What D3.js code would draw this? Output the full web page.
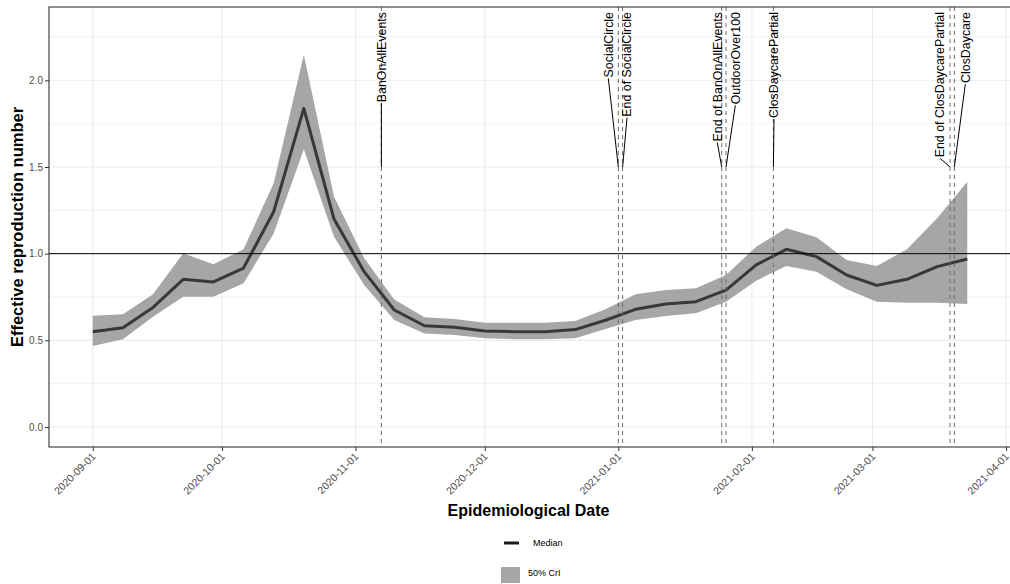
<!DOCTYPE html>
<html>
<head>
<meta charset="utf-8">
<script src="https://cdn.jsdelivr.net/npm/d3@7"></script>
<style>
  body { margin: 0; background: #fff; }
  text { font-family: "Liberation Sans", Arial, sans-serif; }
</style>
</head>
<body>
<div id="chart"></div>
<script>
// weekly estimates
const dates = ['2020-09-01', '2020-09-08', '2020-09-15', '2020-09-22', '2020-09-29',
  '2020-10-06', '2020-10-13', '2020-10-20', '2020-10-27',
  '2020-11-03', '2020-11-10', '2020-11-17', '2020-11-24',
  '2020-12-01', '2020-12-08', '2020-12-15', '2020-12-22', '2020-12-29',
  '2021-01-05', '2021-01-12', '2021-01-19', '2021-01-26',
  '2021-02-02', '2021-02-09', '2021-02-16', '2021-02-23',
  '2021-03-02', '2021-03-09', '2021-03-16', '2021-03-23'];
const median = [0.55, 0.573, 0.69, 0.852, 0.837, 0.917, 1.242, 1.838, 1.2, 0.896,
  0.675, 0.584, 0.575, 0.554, 0.55, 0.55, 0.562, 0.616, 0.679, 0.71,
  0.723, 0.79, 0.935, 1.025, 0.983, 0.877, 0.817, 0.852, 0.925, 0.969];
const upper = [0.642, 0.65, 0.766, 1.002, 0.939, 1.025, 1.406, 2.148, 1.33, 0.973,
  0.735, 0.633, 0.623, 0.602, 0.602, 0.602, 0.612, 0.68, 0.766, 0.79,
  0.8, 0.877, 1.04, 1.146, 1.094, 0.963, 0.929, 1.025, 1.204, 1.415];
const lower = [0.467, 0.506, 0.636, 0.752, 0.752, 0.829, 1.117, 1.603, 1.097, 0.819,
  0.617, 0.54, 0.531, 0.512, 0.506, 0.506, 0.512, 0.565, 0.617, 0.64,
  0.656, 0.723, 0.844, 0.929, 0.896, 0.794, 0.723, 0.717, 0.717, 0.71];

// interventions
const eventNames = ['BanOnAllEvents', 'SocialCircle', 'End of SocialCircle',
  'End of BanOnAllEvents', 'OutdoorOver100', 'ClosDaycarePartial',
  'End of ClosDaycarePartial', 'ClosDaycare'];
const eventDates = ['2020-11-07', '2021-01-01', '2021-01-02', '2021-01-25',
  '2021-01-26', '2021-02-06', '2021-03-19', '2021-03-20'];
const eventLevel = 1.5;
const threshold = 1;

// axis ticks
const xTicks = ['2020-09-01', '2020-10-01', '2020-11-01', '2020-12-01',
  '2021-01-01', '2021-02-01', '2021-03-01', '2021-04-01'];
const yTicks = [0, 0.5, 1, 1.5, 2];
const yMinor = [0.25, 0.75, 1.25, 1.75, 2.25];
const legendLabels = ['Median', '50% CrI'];

// label nudges (px) for the repelled text
const labelDx = [0, -10, 4.4, -4.4, 9.3, 0.6, -10, 11];

const W = 1010, H = 584;
const panel = { left: 49, right: 1011, top: 7, bottom: 447 };
const parse = d3.utcParse('%Y-%m-%d');

const data = dates.map((d, i) => ({ date: parse(d), med: median[i], lo: lower[i], hi: upper[i] }));

const svg = d3.select('#chart').append('svg')
  .attr('width', W).attr('height', H);

// ggplot-like 5% expansion of the date range
const ext = d3.extent(data, d => d.date);
const pad = (ext[1] - ext[0]) * 0.05;
const x = d3.scaleUtc()
  .domain([new Date(+ext[0] - pad), new Date(+ext[1] + pad)])
  .range([panel.left, panel.right]);
const y = d3.scaleLinear()
  .domain([-0.1154, 2.423])
  .range([panel.bottom, panel.top]);

svg.append('clipPath').attr('id', 'clip')
  .append('rect')
  .attr('x', panel.left).attr('y', panel.top)
  .attr('width', panel.right - panel.left).attr('height', panel.bottom - panel.top);

const g = svg.append('g').attr('clip-path', 'url(#clip)');

// grid
g.selectAll('.ymin').data(yMinor).enter().append('line')
  .attr('x1', panel.left).attr('x2', panel.right)
  .attr('y1', d => y(d)).attr('y2', d => y(d))
  .attr('stroke', '#ebebeb').attr('stroke-width', 0.6);
g.selectAll('.ymaj').data(yTicks).enter().append('line')
  .attr('x1', panel.left).attr('x2', panel.right)
  .attr('y1', d => y(d)).attr('y2', d => y(d))
  .attr('stroke', '#ebebeb').attr('stroke-width', 1.1);
g.selectAll('.xmaj').data(xTicks).enter().append('line')
  .attr('x1', d => x(parse(d))).attr('x2', d => x(parse(d)))
  .attr('y1', panel.top).attr('y2', panel.bottom)
  .attr('stroke', '#ebebeb').attr('stroke-width', 1.1);

// ribbon
const area = d3.area()
  .x(d => x(d.date))
  .y0(d => y(d.lo))
  .y1(d => y(d.hi));
g.append('path').datum(data)
  .attr('d', area)
  .attr('fill', '#a6a6a6');

// median
const line = d3.line()
  .x(d => x(d.date))
  .y(d => y(d.med));
g.append('path').datum(data)
  .attr('d', line)
  .attr('fill', 'none')
  .attr('stroke', '#383838')
  .attr('stroke-width', 3)
  .attr('stroke-linejoin', 'round');

// threshold line
g.append('line')
  .attr('x1', panel.left).attr('x2', panel.right)
  .attr('y1', y(threshold)).attr('y2', y(threshold))
  .attr('stroke', '#000').attr('stroke-width', 1);

// intervention dates
g.selectAll('.vline').data(eventDates).enter().append('line')
  .attr('x1', d => x(parse(d))).attr('x2', d => x(parse(d)))
  .attr('y1', panel.top).attr('y2', panel.bottom)
  .attr('stroke', '#6b6b6b').attr('stroke-width', 1)
  .attr('stroke-dasharray', '4,4');

// labels + segments
const labels = g.selectAll('.lab').data(eventNames).enter().append('g');
labels.each(function (name, i) {
  const sel = d3.select(this);
  const px = x(parse(eventDates[i]));
  const cx = px + labelDx[i];
  const t = sel.append('text')
    .text(name)
    .attr('transform', `translate(${cx},12) rotate(-90)`)
    .attr('text-anchor', 'end')
    .attr('dy', '0.35em')
    .attr('font-size', 12.4)
    .attr('fill', '#000');
  const len = t.node().getComputedTextLength();
  const bottom = 12 + len + 1;
  if (bottom < y(eventLevel)) {
    sel.insert('line', 'text')
      .attr('x1', px).attr('y1', y(eventLevel))
      .attr('x2', cx).attr('y2', bottom)
      .attr('stroke', '#000').attr('stroke-width', 1);
  }
});

// panel border
svg.append('rect')
  .attr('x', panel.left).attr('y', panel.top)
  .attr('width', panel.right - panel.left).attr('height', panel.bottom - panel.top)
  .attr('fill', 'none').attr('stroke', '#333').attr('stroke-width', 1.1);

// axes
const yAxis = svg.append('g')
  .attr('transform', `translate(${panel.left},0)`)
  .call(d3.axisLeft(y).tickValues(yTicks).tickFormat(d3.format('.1f')).tickSize(4).tickPadding(2));
const xAxis = svg.append('g')
  .attr('transform', `translate(0,${panel.bottom})`)
  .call(d3.axisBottom(x).tickValues(xTicks.map(parse)).tickFormat(d3.utcFormat('%Y-%m-%d')).tickSize(4));

[yAxis, xAxis].forEach(a => {
  a.select('.domain').remove();
  a.selectAll('.tick line').attr('stroke', '#333');
  a.selectAll('.tick text')
    .attr('fill', '#4d4d4d')
    .attr('font-size', 10)
    .attr('font-family', '"Liberation Sans", Arial, sans-serif');
});

xAxis.selectAll('.tick text')
  .attr('x', 0).attr('y', 0)
  .attr('dy', '0.7em')
  .attr('font-size', 10.5)
  .attr('text-anchor', 'end')
  .attr('transform', 'translate(-2,5) rotate(-45)');

// titles
svg.append('text')
  .text('Epidemiological Date')
  .attr('x', (panel.left + 1008) / 2).attr('y', 516)
  .attr('text-anchor', 'middle')
  .attr('font-size', 16).attr('font-weight', 'bold');
svg.append('text')
  .text('Effective reproduction number')
  .attr('transform', `translate(17,${(panel.top + panel.bottom) / 2}) rotate(-90)`)
  .attr('dy', '0.35em')
  .attr('text-anchor', 'middle')
  .attr('font-size', 16.5).attr('font-weight', 'bold');

// legend
const legend = svg.append('g');
legend.append('line')
  .attr('x1', 504).attr('x2', 519).attr('y1', 543).attr('y2', 543)
  .attr('stroke', '#1a1a1a').attr('stroke-width', 3);
legend.append('rect')
  .attr('x', 501).attr('y', 567).attr('width', 19).attr('height', 16)
  .attr('fill', '#a6a6a6');
legend.selectAll('.ltxt').data(legendLabels).enter().append('text')
  .text(d => d)
  .attr('x', (d, i) => i === 0 ? 533 : 528)
  .attr('y', (d, i) => i === 0 ? 543 : 573)
  .attr('dy', '0.35em')
  .attr('font-size', 9)
  .attr('fill', '#000');
</script>
</body>
</html>
